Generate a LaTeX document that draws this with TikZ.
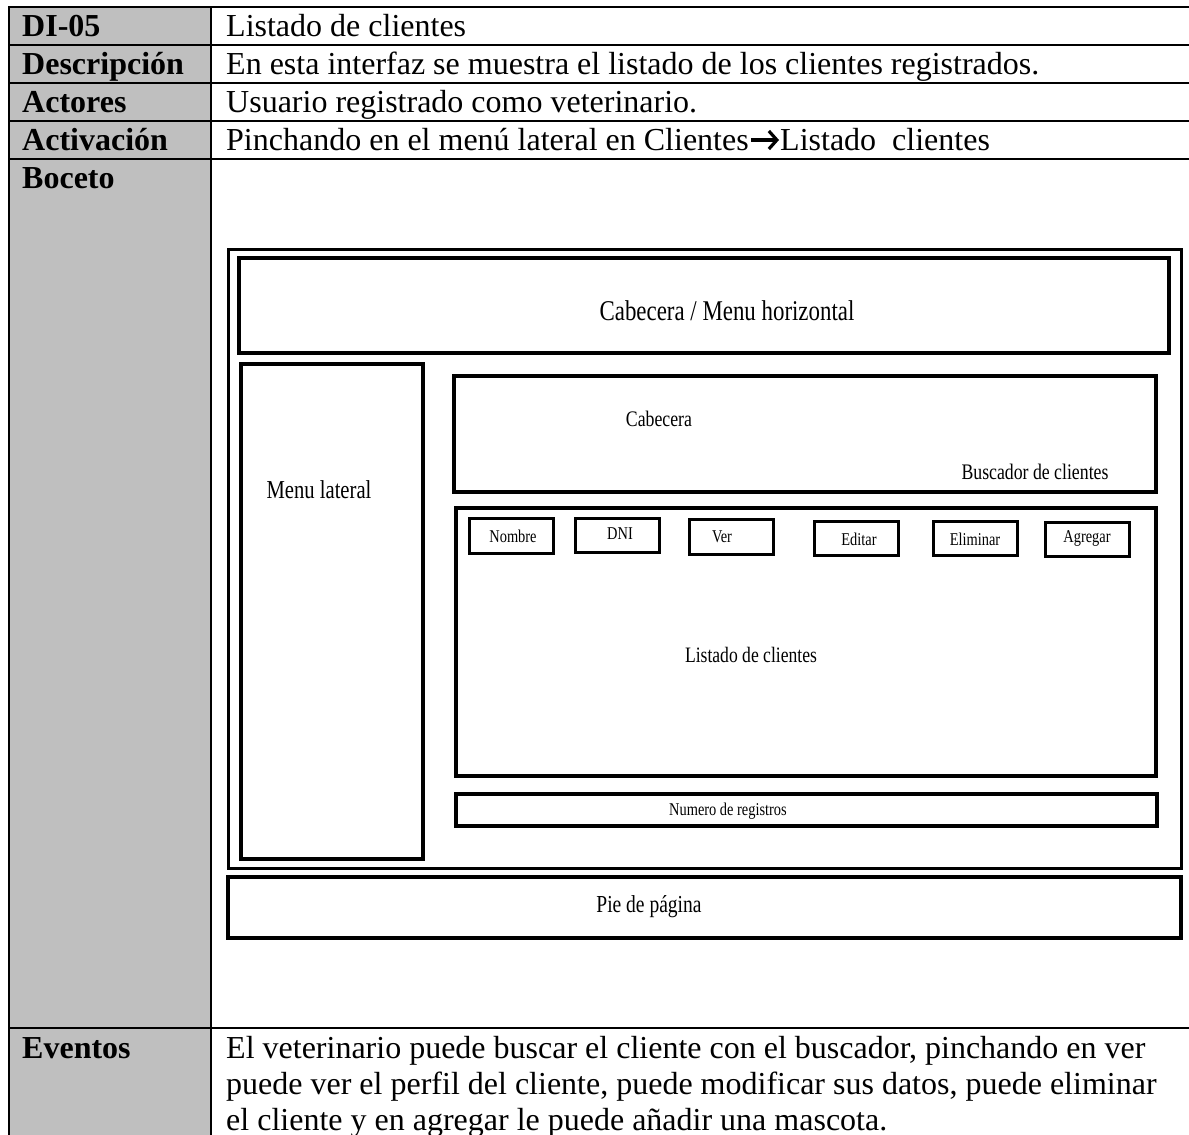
\documentclass[tikz,border=0pt]{standalone}
\usepackage{fontspec}
\setmainfont{Liberation Serif}
\newfontfamily\sketchfont[FakeStretch=0.8]{Liberation Serif}
\usetikzlibrary{fit,calc,arrows.meta}
\definecolor{labelgray}{RGB}{191,191,191}

\begin{document}
\begin{tikzpicture}[x=1pt,y=-1pt,
  rule/.style={line width=2pt},
  keytext/.style={anchor=base west, inner sep=0pt, font=\bfseries\fontsize{32}{36}\selectfont},
  valtext/.style={anchor=base west, inner sep=0pt, font=\fontsize{32}{36}\selectfont},
  frame/.style={draw, line width=3.8pt, inner sep=0pt},
  btn/.style={draw, line width=3pt, inner sep=0pt},
  sk/.style={inner sep=0pt, font=\sketchfont\fontsize{#1}{#1}\selectfont},
  goesto/.style={line width=3.2pt, -{Straight Barb[length=8pt,width=18pt,line width=3.2pt]}},
]
\useasboundingbox (0,0) rectangle (1189,1135);

\begin{scope}
  \clip (0,0) rectangle (1189,1135);
  % label column background
  \fill[labelgray] (9,7) rectangle (211,1140);
  % table rules
  \foreach \yy in {7,45,83,121,159,1028}
    \draw[rule] (8,\yy) -- (1195,\yy);
  \draw[rule] (9,6) -- (9,1140);
  \draw[rule] (211,6) -- (211,1140);

  % table texts
  \node[keytext] (k1) at (22,36) {DI-05};
  \node[keytext] (k2) at (22,74) {Descripción};
  \node[keytext] (k3) at (22,112) {Actores};
  \node[keytext] (k4) at (22,150) {Activación};
  \node[keytext] (k5) at (22,188) {Boceto};
  \node[keytext] (k6) at (22,1058) {Eventos};

  \node[valtext] (v1) at (226,36) {Listado de clientes};
  \node[valtext] (v2) at (226,74) {En esta interfaz se muestra el listado de los clientes registrados.};
  \node[valtext] (v3) at (226,112) {Usuario registrado como veterinario.};
  \node[valtext] (v4a) at (226,150) {Pinchando en el menú lateral en Clientes};
  \node[valtext] (v4b) at (780,150) {Listado~ clientes};
  \draw[goesto] ($(v4a.base east)+(2,-10)$) -- ($(v4b.base west)+(-1,-10)$);
  \node[valtext] (v6a) at (226,1058) {El veterinario puede buscar el cliente con el buscador, pinchando en ver};
  \node[valtext] (v6b) at (226,1094) {puede ver el perfil del cliente, puede modificar sus datos, puede eliminar};
  \node[valtext] (v6c) at (226,1130) {el cliente y en agregar le puede añadir una mascota.};
\end{scope}

% wireframe sketch
\node[frame, line width=3pt, fit={(228,249) (1181,868)}] (page) {};
\node[frame, line width=4.2pt, fit={(239,258) (1169,353)}] (topbar) {};
\node[frame, fit={(241,364) (423,859)}] (sidebar) {};
\node[frame, fit={(454,376) (1156,492)}] (cabbox) {};
\node[frame, fit={(456,508) (1156,776)}] (listbox) {};
\node[frame, fit={(456,794) (1157,826)}] (countbox) {};
\node[frame, fit={(228,877) (1181,938)}] (footer) {};

\node[btn, fit={(469,518) (553,553)}] (bnombre) {};
\node[btn, fit={(575,518) (659,552)}] (bdni) {};
\node[btn, fit={(689,519) (773,554)}] (bver) {};
\node[btn, fit={(814,521) (898,555)}] (beditar) {};
\node[btn, fit={(933,521) (1017,555)}] (beliminar) {};
\node[btn, fit={(1045,522) (1129,556)}] (bagregar) {};

\node[sk=28.6] (ttop) at (727,311) {Cabecera / Menu horizontal};
\node[sk=25.8] (tside) at (319,490) {Menu lateral};
\node[sk=22.2] (tcab) at (659,419) {Cabecera};
\node[sk=22.2] (tbus) at (1035,472) {Buscador de clientes};
\node[sk=22] (tlist) at (751,655) {Listado de clientes};
\node[sk=18] (tcount) at (728,811) {Numero de registros};
\node[sk=24.4] (tfoot) at (649,907) {Pie de página};

\node[sk=18] (tnombre) at (513,536) {Nombre};
\node[sk=18] (tdni) at (620,534) {DNI};
\node[sk=18] (tver) at (722,537) {Ver};
\node[sk=18] (teditar) at (859,539) {Editar};
\node[sk=18] (teliminar) at (975,539) {Eliminar};
\node[sk=18] (tagregar) at (1087,538) {Agregar};
\end{tikzpicture}
\end{document}
